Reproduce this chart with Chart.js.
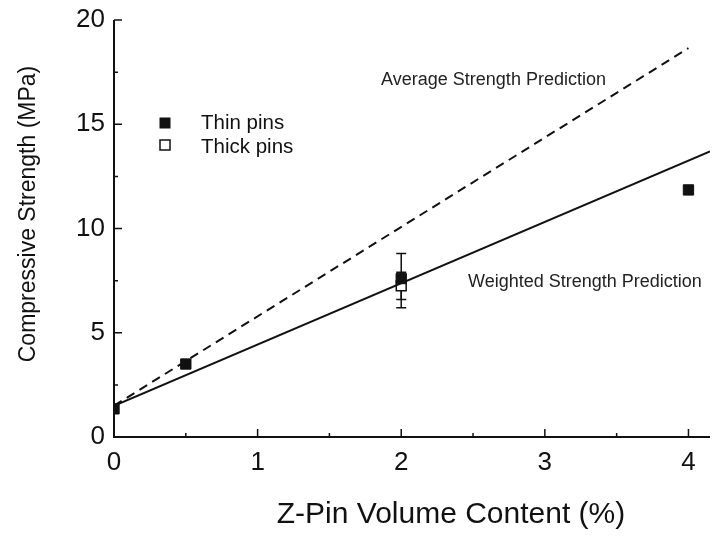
<!DOCTYPE html>
<html>
<head>
<meta charset="utf-8">
<script src="https://cdn.jsdelivr.net/npm/chart.js"></script>
<style>
    body { margin: 0; background: #fff; }
    #wrap { width: 712px; height: 536px; }
</style>
</head>
<body>
<div id="wrap"><canvas id="myChart" width="712" height="536"></canvas></div>
<script>
    // measured points (pin volume % vs compressive strength MPa)
    const thinX = [0, 0.5, 2, 4];
    const thinY = [1.35, 3.5, 7.6, 11.85];
    const thinErrLow = [null, null, 6.2, null];
    const thinErrHigh = [null, null, 8.8, null];

    const thickX = [2];
    const thickY = [7.25];
    const thickErrLow = [6.6];
    const thickErrHigh = [7.9];

    // model predictions
    const weightedX = [0, 4.15];
    const weightedY = [1.5, 13.7];
    const averageX = [0, 4];
    const averageY = [1.5, 18.65];

    const xTicks = [0, 1, 2, 3, 4];
    const yTicks = [0, 5, 10, 15, 20];

    const FONT = '"Liberation Sans", Arial, sans-serif';
    const INK = '#111';

    const pts = (xs, ys) => xs.map((x, i) => ({x: x, y: ys[i]}));

    // error bars, axis lines with inward ticks, labels and legend
    const decorations = {
        id: 'decorations',
        beforeDatasetsDraw(chart) {
            const ctx = chart.ctx;
            const xs = chart.scales.x, ys = chart.scales.y;
            ctx.save();
            ctx.strokeStyle = INK;
            ctx.lineWidth = 1.5;
            const bar = (x, lo, hi) => {
                const px = xs.getPixelForValue(x);
                const pl = ys.getPixelForValue(lo), ph = ys.getPixelForValue(hi);
                ctx.beginPath();
                ctx.moveTo(px, pl); ctx.lineTo(px, ph);
                ctx.moveTo(px - 5, pl); ctx.lineTo(px + 5, pl);
                ctx.moveTo(px - 5, ph); ctx.lineTo(px + 5, ph);
                ctx.stroke();
            };
            thinX.forEach((x, i) => { if (thinErrLow[i] != null) bar(x, thinErrLow[i], thinErrHigh[i]); });
            thickX.forEach((x, i) => bar(x, thickErrLow[i], thickErrHigh[i]));
            ctx.restore();
        },
        afterDatasetsDraw(chart) {
            const ctx = chart.ctx;
            const a = chart.chartArea;
            const xs = chart.scales.x, ys = chart.scales.y;
            ctx.save();
            ctx.strokeStyle = INK;
            ctx.lineWidth = 2;
            ctx.beginPath();
            ctx.moveTo(a.left, a.top);
            ctx.lineTo(a.left, a.bottom);
            ctx.lineTo(a.right, a.bottom);
            ctx.stroke();

            ctx.lineWidth = 1.5;
            ctx.beginPath();
            xTicks.forEach((v, i) => {
                const px = xs.getPixelForValue(v);
                ctx.moveTo(px, a.bottom); ctx.lineTo(px, a.bottom - 8);
                if (i < xTicks.length - 1) {
                    const mx = xs.getPixelForValue((v + xTicks[i + 1]) / 2);
                    ctx.moveTo(mx, a.bottom); ctx.lineTo(mx, a.bottom - 4);
                }
            });
            yTicks.forEach((v, i) => {
                const py = ys.getPixelForValue(v);
                ctx.moveTo(a.left, py); ctx.lineTo(a.left + 8, py);
                if (i < yTicks.length - 1) {
                    const my = ys.getPixelForValue((v + yTicks[i + 1]) / 2);
                    ctx.moveTo(a.left, my); ctx.lineTo(a.left + 4, my);
                }
            });
            ctx.stroke();

            // axis titles
            ctx.fillStyle = INK;
            ctx.font = '30px ' + FONT;
            ctx.textAlign = 'center';
            ctx.textBaseline = 'alphabetic';
            ctx.fillText('Z-Pin Volume Content (%)', 451, 523);
            ctx.save();
            ctx.translate(35, 214);
            ctx.rotate(-Math.PI / 2);
            ctx.font = '23px ' + FONT;
            ctx.fillText('Compressive Strength (MPa)', 0, 0);
            ctx.restore();

            // line labels
            ctx.fillStyle = '#222';
            ctx.font = '18px ' + FONT;
            ctx.textAlign = 'left';
            ctx.textBaseline = 'middle';
            ctx.fillText('Average Strength Prediction', xs.getPixelForValue(1.86), ys.getPixelForValue(17.1));
            ctx.fillText('Weighted Strength Prediction', xs.getPixelForValue(2.465), ys.getPixelForValue(7.43));

            // legend
            ctx.fillStyle = INK;
            ctx.fillRect(159.5, 117.5, 11, 11);
            ctx.fillStyle = '#fff';
            ctx.strokeStyle = INK;
            ctx.lineWidth = 1.5;
            ctx.fillRect(160, 140, 10, 10);
            ctx.strokeRect(160, 140, 10, 10);
            ctx.fillStyle = INK;
            ctx.font = '20.5px ' + FONT;
            ctx.fillText('Thin pins', 201, 123);
            ctx.fillText('Thick pins', 201, 147);
            ctx.restore();
        }
    };

    const config = {
        type: 'scatter',
        data: {
            datasets: [{
                label: 'Thin pins',
                data: pts(thinX, thinY),
                pointStyle: 'rect',
                pointRadius: 7.3,
                backgroundColor: INK,
                borderColor: INK,
                borderWidth: 1
            }, {
                label: 'Weighted Strength Prediction',
                data: pts(weightedX, weightedY),
                showLine: true,
                pointRadius: 0,
                borderColor: INK,
                borderWidth: 2
            }, {
                label: 'Average Strength Prediction',
                data: pts(averageX, averageY),
                showLine: true,
                pointRadius: 0,
                borderColor: INK,
                borderWidth: 2,
                borderDash: [9, 6]
            }, {
                label: 'Thick pins',
                data: pts(thickX, thickY),
                pointStyle: 'rect',
                pointRadius: 7,
                backgroundColor: '#fff',
                borderColor: INK,
                borderWidth: 1.5
            }]
        },
        options: {
            responsive: false,
            animation: false,
            layout: { autoPadding: false, padding: { top: 20, right: 2, left: 0, bottom: 0 } },
            plugins: { legend: { display: false }, tooltip: { enabled: false } },
            scales: {
                x: {
                    type: 'linear',
                    min: 0,
                    max: 4.15,
                    grid: { display: false, drawTicks: false },
                    border: { display: false },
                    ticks: {
                        stepSize: 1,
                        includeBounds: false,
                        padding: 10,
                        color: INK,
                        font: { family: FONT, size: 26 }
                    },
                    afterFit(scale) {
                        scale.height = 99;
                        scale.paddingLeft = 0;
                        scale.paddingRight = 0;
                    }
                },
                y: {
                    min: 0,
                    max: 20,
                    grid: { display: false, drawTicks: false },
                    border: { display: false },
                    ticks: {
                        stepSize: 5,
                        padding: 9,
                        color: INK,
                        font: { family: FONT, size: 26 }
                    },
                    afterFit(scale) {
                        scale.width = 114;
                        scale.paddingTop = 0;
                        scale.paddingBottom = 0;
                    }
                }
            }
        },
        plugins: [decorations]
    };

    const myChart = new Chart(document.getElementById('myChart'), config);
</script>
</body>
</html>
